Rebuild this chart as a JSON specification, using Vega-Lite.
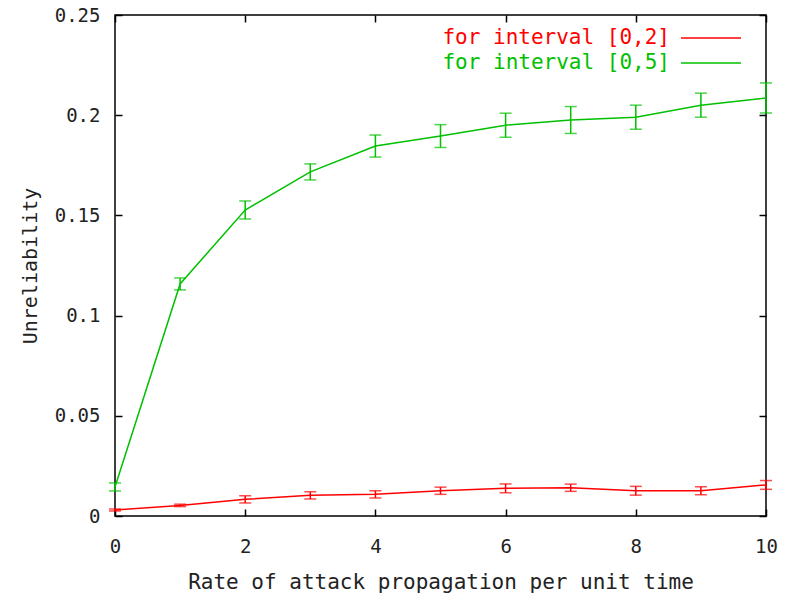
{
  "$schema": "https://vega.github.io/schema/vega-lite/v6.json",
  "width": 651,
  "height": 501,
  "autosize": {"type": "none"},
  "padding": {"left": 115, "top": 15, "right": 21, "bottom": 77},
  "background": "white",
  "config": {
    "font": "DejaVu Sans Mono",
    "view": {"stroke": "black", "strokeWidth": 1.5},
    "axis": {"labelFont": "DejaVu Sans Mono", "titleFont": "DejaVu Sans Mono", "labelFontSize": 19, "titleFontSize": 20, "titleFontWeight": "normal", "labelColor": "#222", "titleColor": "#222", "tickColor": "black", "domain": false, "grid": false, "tickSize": -7, "tickWidth": 1.5, "labelFlush": false}
  },
  "data": {
    "values": [
      {"series": "for interval [0,2]", "x": 0, "y": 0.0030, "lo": 0.0025, "hi": 0.0035},
      {"series": "for interval [0,2]", "x": 1, "y": 0.0053, "lo": 0.0047, "hi": 0.0059},
      {"series": "for interval [0,2]", "x": 2, "y": 0.0083, "lo": 0.0065, "hi": 0.0101},
      {"series": "for interval [0,2]", "x": 3, "y": 0.0103, "lo": 0.0085, "hi": 0.0121},
      {"series": "for interval [0,2]", "x": 4, "y": 0.0108, "lo": 0.0090, "hi": 0.0126},
      {"series": "for interval [0,2]", "x": 5, "y": 0.0126, "lo": 0.0108, "hi": 0.0144},
      {"series": "for interval [0,2]", "x": 6, "y": 0.0138, "lo": 0.0116, "hi": 0.0160},
      {"series": "for interval [0,2]", "x": 7, "y": 0.0141, "lo": 0.0123, "hi": 0.0159},
      {"series": "for interval [0,2]", "x": 8, "y": 0.0126, "lo": 0.0104, "hi": 0.0148},
      {"series": "for interval [0,2]", "x": 9, "y": 0.0126, "lo": 0.0106, "hi": 0.0146},
      {"series": "for interval [0,2]", "x": 10, "y": 0.0155, "lo": 0.0133, "hi": 0.0177},
      {"series": "for interval [0,5]", "x": 0, "y": 0.0145, "lo": 0.0125, "hi": 0.0165},
      {"series": "for interval [0,5]", "x": 1, "y": 0.1158, "lo": 0.1128, "hi": 0.1188},
      {"series": "for interval [0,5]", "x": 2, "y": 0.1527, "lo": 0.1482, "hi": 0.1572},
      {"series": "for interval [0,5]", "x": 3, "y": 0.1717, "lo": 0.1677, "hi": 0.1757},
      {"series": "for interval [0,5]", "x": 4, "y": 0.1846, "lo": 0.1791, "hi": 0.1901},
      {"series": "for interval [0,5]", "x": 5, "y": 0.1896, "lo": 0.1839, "hi": 0.1953},
      {"series": "for interval [0,5]", "x": 6, "y": 0.1950, "lo": 0.1890, "hi": 0.2010},
      {"series": "for interval [0,5]", "x": 7, "y": 0.1976, "lo": 0.1909, "hi": 0.2043},
      {"series": "for interval [0,5]", "x": 8, "y": 0.1990, "lo": 0.1930, "hi": 0.2050},
      {"series": "for interval [0,5]", "x": 9, "y": 0.2050, "lo": 0.1990, "hi": 0.2110},
      {"series": "for interval [0,5]", "x": 10, "y": 0.2086, "lo": 0.2011, "hi": 0.2161}
    ]
  },
  "resolve": {"axis": {"x": "independent", "y": "independent"}},
  "layer": [
    {
      "mark": {"type": "line", "strokeWidth": 1.5},
      "encoding": {
        "x": {"field": "x", "type": "quantitative", "scale": {"domain": [0, 10], "nice": false}, "axis": {"orient": "bottom", "values": [0, 2, 4, 6, 8, 10], "format": "d", "title": "Rate of attack propagation per unit time", "titleFontSize": 21, "labelPadding": 28, "titlePadding": 15}},
        "y": {"field": "y", "type": "quantitative", "scale": {"domain": [0, 0.25], "nice": false}, "axis": {"orient": "left", "values": [0, 0.05, 0.1, 0.15, 0.2, 0.25], "format": "~r", "title": "Unreliability", "labelPadding": 22, "titlePadding": 14}},
        "color": {"field": "series", "type": "nominal", "scale": {"domain": ["for interval [0,2]", "for interval [0,5]"], "range": ["#ff0000", "#00c000"]},
          "legend": {"orient": "none", "legendX": 585, "legendY": 12, "title": null, "padding": 0, "symbolType": "M-3,0H3", "symbolSize": 400, "symbolStrokeWidth": 1.5, "symbolFillColor": "transparent", "labelFont": "DejaVu Sans Mono", "labelFontSize": 21, "labelAlign": "right", "labelOffset": -52, "rowPadding": 4, "labelLimit": 400,
            "encode": {"labels": {"update": {"fill": {"scale": "color", "field": "value"}}}}}}
      }
    },
    {
      "mark": {"type": "rule", "strokeWidth": 1.5},
      "encoding": {
        "x": {"field": "x", "type": "quantitative", "axis": {"orient": "top", "values": [0, 2, 4, 6, 8, 10], "labels": false, "title": null}},
        "y": {"field": "lo", "type": "quantitative", "axis": {"orient": "right", "values": [0, 0.05, 0.1, 0.15, 0.2, 0.25], "labels": false, "title": null}},
        "y2": {"field": "hi"},
        "color": {"field": "series", "type": "nominal", "legend": null}
      }
    },
    {
      "mark": {"type": "tick", "orient": "horizontal", "size": 12, "thickness": 1.5},
      "encoding": {
        "x": {"field": "x", "type": "quantitative", "axis": null},
        "y": {"field": "lo", "type": "quantitative", "axis": null},
        "color": {"field": "series", "type": "nominal", "legend": null}
      }
    },
    {
      "mark": {"type": "tick", "orient": "horizontal", "size": 12, "thickness": 1.5},
      "encoding": {
        "x": {"field": "x", "type": "quantitative", "axis": null},
        "y": {"field": "hi", "type": "quantitative", "axis": null},
        "color": {"field": "series", "type": "nominal", "legend": null}
      }
    }
  ]
}
